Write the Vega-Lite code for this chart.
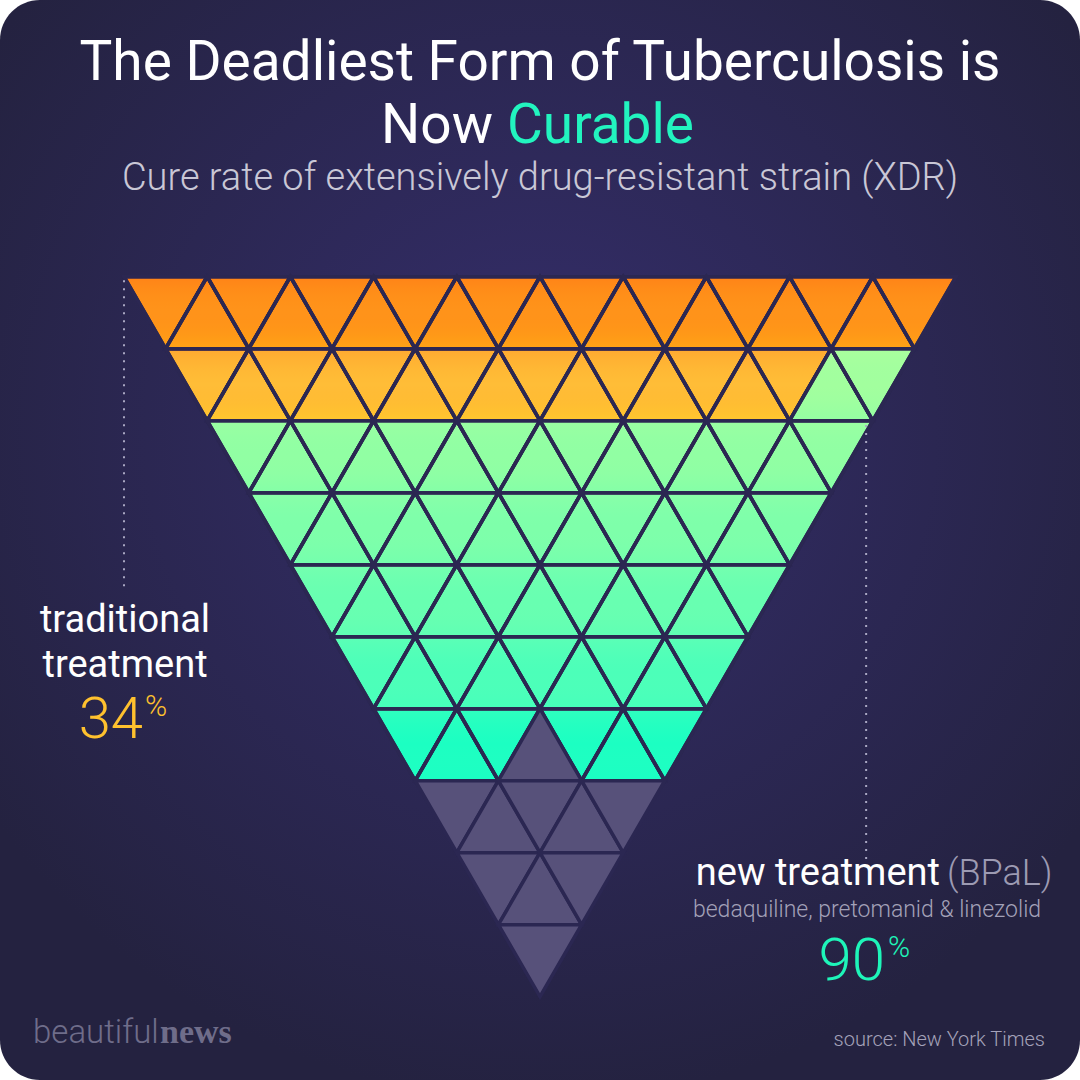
{
  "$schema": "https://vega.github.io/schema/vega-lite/v6.json",
  "width": 1080,
  "height": 1080,
  "padding": 0,
  "autosize": {"type": "fit", "contains": "padding"},
  "background": "#ffffff",
  "config": {
    "view": {
      "stroke": null,
      "cornerRadius": 40,
      "fill": {
        "gradient": "radial",
        "x1": 0.5, "y1": 0.4, "r1": 0,
        "x2": 0.5, "y2": 0.4, "r2": 0.62,
        "stops": [
          {"offset": 0, "color": "#352E6C"},
          {"offset": 1, "color": "#242240"}
        ]
      }
    }
  },
  "datasets": {
    "tri": [
      {"r":1,"c":1,"dir":"down","s":"traditional"},{"r":1,"c":2,"dir":"up","s":"traditional"},{"r":1,"c":3,"dir":"down","s":"traditional"},{"r":1,"c":4,"dir":"up","s":"traditional"},{"r":1,"c":5,"dir":"down","s":"traditional"},{"r":1,"c":6,"dir":"up","s":"traditional"},{"r":1,"c":7,"dir":"down","s":"traditional"},{"r":1,"c":8,"dir":"up","s":"traditional"},{"r":1,"c":9,"dir":"down","s":"traditional"},{"r":1,"c":10,"dir":"up","s":"traditional"},{"r":1,"c":11,"dir":"down","s":"traditional"},{"r":1,"c":12,"dir":"up","s":"traditional"},{"r":1,"c":13,"dir":"down","s":"traditional"},{"r":1,"c":14,"dir":"up","s":"traditional"},{"r":1,"c":15,"dir":"down","s":"traditional"},{"r":1,"c":16,"dir":"up","s":"traditional"},{"r":1,"c":17,"dir":"down","s":"traditional"},{"r":1,"c":18,"dir":"up","s":"traditional"},{"r":1,"c":19,"dir":"down","s":"traditional"},
      {"r":2,"c":2,"dir":"down","s":"traditional"},{"r":2,"c":3,"dir":"up","s":"traditional"},{"r":2,"c":4,"dir":"down","s":"traditional"},{"r":2,"c":5,"dir":"up","s":"traditional"},{"r":2,"c":6,"dir":"down","s":"traditional"},{"r":2,"c":7,"dir":"up","s":"traditional"},{"r":2,"c":8,"dir":"down","s":"traditional"},{"r":2,"c":9,"dir":"up","s":"traditional"},{"r":2,"c":10,"dir":"down","s":"traditional"},{"r":2,"c":11,"dir":"up","s":"traditional"},{"r":2,"c":12,"dir":"down","s":"traditional"},{"r":2,"c":13,"dir":"up","s":"traditional"},{"r":2,"c":14,"dir":"down","s":"traditional"},{"r":2,"c":15,"dir":"up","s":"traditional"},{"r":2,"c":16,"dir":"down","s":"traditional"},{"r":2,"c":17,"dir":"up","s":"new"},{"r":2,"c":18,"dir":"down","s":"new"},
      {"r":3,"c":3,"dir":"down","s":"new"},{"r":3,"c":4,"dir":"up","s":"new"},{"r":3,"c":5,"dir":"down","s":"new"},{"r":3,"c":6,"dir":"up","s":"new"},{"r":3,"c":7,"dir":"down","s":"new"},{"r":3,"c":8,"dir":"up","s":"new"},{"r":3,"c":9,"dir":"down","s":"new"},{"r":3,"c":10,"dir":"up","s":"new"},{"r":3,"c":11,"dir":"down","s":"new"},{"r":3,"c":12,"dir":"up","s":"new"},{"r":3,"c":13,"dir":"down","s":"new"},{"r":3,"c":14,"dir":"up","s":"new"},{"r":3,"c":15,"dir":"down","s":"new"},{"r":3,"c":16,"dir":"up","s":"new"},{"r":3,"c":17,"dir":"down","s":"new"},
      {"r":4,"c":4,"dir":"down","s":"new"},{"r":4,"c":5,"dir":"up","s":"new"},{"r":4,"c":6,"dir":"down","s":"new"},{"r":4,"c":7,"dir":"up","s":"new"},{"r":4,"c":8,"dir":"down","s":"new"},{"r":4,"c":9,"dir":"up","s":"new"},{"r":4,"c":10,"dir":"down","s":"new"},{"r":4,"c":11,"dir":"up","s":"new"},{"r":4,"c":12,"dir":"down","s":"new"},{"r":4,"c":13,"dir":"up","s":"new"},{"r":4,"c":14,"dir":"down","s":"new"},{"r":4,"c":15,"dir":"up","s":"new"},{"r":4,"c":16,"dir":"down","s":"new"},
      {"r":5,"c":5,"dir":"down","s":"new"},{"r":5,"c":6,"dir":"up","s":"new"},{"r":5,"c":7,"dir":"down","s":"new"},{"r":5,"c":8,"dir":"up","s":"new"},{"r":5,"c":9,"dir":"down","s":"new"},{"r":5,"c":10,"dir":"up","s":"new"},{"r":5,"c":11,"dir":"down","s":"new"},{"r":5,"c":12,"dir":"up","s":"new"},{"r":5,"c":13,"dir":"down","s":"new"},{"r":5,"c":14,"dir":"up","s":"new"},{"r":5,"c":15,"dir":"down","s":"new"},
      {"r":6,"c":6,"dir":"down","s":"new"},{"r":6,"c":7,"dir":"up","s":"new"},{"r":6,"c":8,"dir":"down","s":"new"},{"r":6,"c":9,"dir":"up","s":"new"},{"r":6,"c":10,"dir":"down","s":"new"},{"r":6,"c":11,"dir":"up","s":"new"},{"r":6,"c":12,"dir":"down","s":"new"},{"r":6,"c":13,"dir":"up","s":"new"},{"r":6,"c":14,"dir":"down","s":"new"},
      {"r":7,"c":7,"dir":"down","s":"new"},{"r":7,"c":8,"dir":"up","s":"new"},{"r":7,"c":9,"dir":"down","s":"new"},{"r":7,"c":10,"dir":"up","s":"none"},{"r":7,"c":11,"dir":"down","s":"new"},{"r":7,"c":12,"dir":"up","s":"new"},{"r":7,"c":13,"dir":"down","s":"new"},
      {"r":8,"c":8,"dir":"down","s":"none"},{"r":8,"c":9,"dir":"up","s":"none"},{"r":8,"c":10,"dir":"down","s":"none"},{"r":8,"c":11,"dir":"up","s":"none"},{"r":8,"c":12,"dir":"down","s":"none"},
      {"r":9,"c":9,"dir":"down","s":"none"},{"r":9,"c":10,"dir":"up","s":"none"},{"r":9,"c":11,"dir":"down","s":"none"},
      {"r":10,"c":10,"dir":"down","s":"none"}
    ]
  },
  "layer": [
    {
      "data": {"name": "tri"},
      "transform": [{"filter": "datum.s === 'traditional'"}],
      "mark": {"type": "point", "filled": true, "opacity": 1, "size": 6922, "stroke": "#2B2752", "strokeWidth": 3.5},
      "encoding": {
        "x": {"field": "c", "type": "quantitative", "scale": {"domain": [-2.981, 22.981], "nice": false, "zero": false}, "axis": null},
        "y": {"field": "r", "type": "quantitative", "scale": {"domain": [-3.343, 11.657], "nice": false, "zero": false, "reverse": true}, "axis": null},
        "shape": {"field": "dir", "type": "nominal", "scale": {"domain": ["down", "up"], "range": ["triangle-down", "triangle-up"]}, "legend": null},
        "fill": {"field": "r", "type": "quantitative", "scale": {"domain": [1, 2], "range": ["#FF931A", "#FFBD37"]}, "legend": null}
      }
    },
    {
      "data": {"name": "tri"},
      "transform": [{"filter": "datum.s === 'traditional'"}],
      "mark": {"type": "point", "filled": true, "opacity": 1, "size": 6922, "stroke": "#2B2752", "strokeWidth": 3.5,
        "fill": {"gradient": "linear", "x1": 0, "y1": 0, "x2": 0, "y2": 1, "stops": [
          {"offset": 0, "color": "rgba(255,0,0,0.11)"},
          {"offset": 0.5, "color": "rgba(255,128,0,0)"},
          {"offset": 1, "color": "rgba(255,255,0,0.16)"}
        ]}},
      "encoding": {
        "x": {"field": "c", "type": "quantitative", "scale": {"domain": [-2.981, 22.981], "nice": false, "zero": false}, "axis": null},
        "y": {"field": "r", "type": "quantitative", "scale": {"domain": [-3.343, 11.657], "nice": false, "zero": false, "reverse": true}, "axis": null},
        "shape": {"field": "dir", "type": "nominal", "scale": {"domain": ["down", "up"], "range": ["triangle-down", "triangle-up"]}, "legend": null}
      }
    },
    {
      "data": {"name": "tri"},
      "transform": [{"filter": "datum.s === 'new'"}],
      "mark": {"type": "point", "filled": true, "opacity": 1, "size": 6922, "stroke": "#2B2752", "strokeWidth": 3.5},
      "encoding": {
        "x": {"field": "c", "type": "quantitative", "scale": {"domain": [-2.981, 22.981], "nice": false, "zero": false}, "axis": null},
        "y": {"field": "r", "type": "quantitative", "scale": {"domain": [-3.343, 11.657], "nice": false, "zero": false, "reverse": true}, "axis": null},
        "shape": {"field": "dir", "type": "nominal", "scale": {"domain": ["down", "up"], "range": ["triangle-down", "triangle-up"]}, "legend": null},
        "fill": {"field": "r", "type": "quantitative", "scale": {"domain": [2, 7], "range": ["#A2FF9E", "#1CFFC2"]}, "legend": null}
      }
    },
    {
      "data": {"name": "tri"},
      "transform": [{"filter": "datum.s === 'new'"}],
      "mark": {"type": "point", "filled": true, "opacity": 1, "size": 6922, "stroke": "#2B2752", "strokeWidth": 3.5,
        "fill": {"gradient": "linear", "x1": 0, "y1": 0, "x2": 0, "y2": 1, "stops": [
          {"offset": 0, "color": "rgba(255,255,150,0.09)"},
          {"offset": 0.5, "color": "rgba(128,255,180,0)"},
          {"offset": 1, "color": "rgba(0,255,210,0.09)"}
        ]}},
      "encoding": {
        "x": {"field": "c", "type": "quantitative", "scale": {"domain": [-2.981, 22.981], "nice": false, "zero": false}, "axis": null},
        "y": {"field": "r", "type": "quantitative", "scale": {"domain": [-3.343, 11.657], "nice": false, "zero": false, "reverse": true}, "axis": null},
        "shape": {"field": "dir", "type": "nominal", "scale": {"domain": ["down", "up"], "range": ["triangle-down", "triangle-up"]}, "legend": null}
      }
    },
    {
      "data": {"name": "tri"},
      "transform": [{"filter": "datum.s === 'none'"}],
      "mark": {"type": "point", "filled": true, "opacity": 1, "size": 6922, "fill": "#57517A", "stroke": "#2B2752", "strokeWidth": 3.5},
      "encoding": {
        "x": {"field": "c", "type": "quantitative", "scale": {"domain": [-2.981, 22.981], "nice": false, "zero": false}, "axis": null},
        "y": {"field": "r", "type": "quantitative", "scale": {"domain": [-3.343, 11.657], "nice": false, "zero": false, "reverse": true}, "axis": null},
        "shape": {"field": "dir", "type": "nominal", "scale": {"domain": ["down", "up"], "range": ["triangle-down", "triangle-up"]}, "legend": null}
      }
    },
    {
      "data": {"values": [{"x": 0, "y": 0.55, "y2": 4.88}, {"x": 17.84, "y": 2.56, "y2": 8.6}]},
      "mark": {"type": "rule", "stroke": "#A9A7C2", "strokeWidth": 2, "strokeDash": [2, 6]},
      "encoding": {
        "x": {"field": "x", "type": "quantitative", "scale": {"domain": [-2.981, 22.981], "nice": false, "zero": false}, "axis": null},
        "y": {"field": "y", "type": "quantitative", "scale": {"domain": [-3.343, 11.657], "nice": false, "zero": false, "reverse": true}, "axis": null},
        "y2": {"field": "y2"}
      }
    },
    {
      "data": {"values": [{"label": "The Deadliest Form of Tuberculosis is", "x": 10, "y": -2.232}]},
      "mark": {"type": "text", "font": "Roboto", "fontWeight": 400, "fontSize": 55, "color": "#FFFFFF", "align": "center", "baseline": "alphabetic"},
      "encoding": {
        "x": {"field": "x", "type": "quantitative", "scale": {"domain": [-2.981, 22.981], "nice": false, "zero": false}, "axis": null},
        "y": {"field": "y", "type": "quantitative", "scale": {"domain": [-3.343, 11.657], "nice": false, "zero": false, "reverse": true}, "axis": null},
        "text": {"field": "label"}
      }
    },
    {
      "data": {"values": [{"label": "Now", "x": 8.870, "y": -1.357}]},
      "mark": {"type": "text", "font": "Roboto", "fontWeight": 400, "fontSize": 55, "color": "#FFFFFF", "align": "right", "baseline": "alphabetic"},
      "encoding": {
        "x": {"field": "x", "type": "quantitative", "scale": {"domain": [-2.981, 22.981], "nice": false, "zero": false}, "axis": null},
        "y": {"field": "y", "type": "quantitative", "scale": {"domain": [-3.343, 11.657], "nice": false, "zero": false, "reverse": true}, "axis": null},
        "text": {"field": "label"}
      }
    },
    {
      "data": {"values": [{"label": "Curable", "x": 9.207, "y": -1.357}]},
      "mark": {"type": "text", "font": "Roboto", "fontWeight": 400, "fontSize": 55, "color": "#22F4BF", "align": "left", "baseline": "alphabetic"},
      "encoding": {
        "x": {"field": "x", "type": "quantitative", "scale": {"domain": [-2.981, 22.981], "nice": false, "zero": false}, "axis": null},
        "y": {"field": "y", "type": "quantitative", "scale": {"domain": [-3.343, 11.657], "nice": false, "zero": false, "reverse": true}, "axis": null},
        "text": {"field": "label"}
      }
    },
    {
      "data": {"values": [{"label": "Cure rate of extensively drug-resistant strain (XDR)", "x": 10, "y": -0.701}]},
      "mark": {"type": "text", "font": "Roboto", "fontWeight": 300, "fontSize": 38, "color": "#C9C7D6", "align": "center", "baseline": "alphabetic"},
      "encoding": {
        "x": {"field": "x", "type": "quantitative", "scale": {"domain": [-2.981, 22.981], "nice": false, "zero": false}, "axis": null},
        "y": {"field": "y", "type": "quantitative", "scale": {"domain": [-3.343, 11.657], "nice": false, "zero": false, "reverse": true}, "axis": null},
        "text": {"field": "label"}
      }
    },
    {
      "data": {"values": [{"label": "traditional", "x": 0.024, "y": 5.434}, {"label": "treatment", "x": 0.024, "y": 6.06}]},
      "mark": {"type": "text", "font": "Roboto", "fontWeight": 400, "fontSize": 38, "color": "#FFFFFF", "align": "center", "baseline": "alphabetic"},
      "encoding": {
        "x": {"field": "x", "type": "quantitative", "scale": {"domain": [-2.981, 22.981], "nice": false, "zero": false}, "axis": null},
        "y": {"field": "y", "type": "quantitative", "scale": {"domain": [-3.343, 11.657], "nice": false, "zero": false, "reverse": true}, "axis": null},
        "text": {"field": "label"}
      }
    },
    {
      "data": {"values": [{"value": 34, "x": 0.457, "y": 6.907}]},
      "mark": {"type": "text", "font": "Roboto", "fontWeight": 300, "fontSize": 58, "color": "#FFC12E", "align": "right", "baseline": "alphabetic"},
      "encoding": {
        "x": {"field": "x", "type": "quantitative", "scale": {"domain": [-2.981, 22.981], "nice": false, "zero": false}, "axis": null},
        "y": {"field": "y", "type": "quantitative", "scale": {"domain": [-3.343, 11.657], "nice": false, "zero": false, "reverse": true}, "axis": null},
        "text": {"field": "value"}
      }
    },
    {
      "data": {"values": [{"label": "%", "x": 0.505, "y": 6.6}]},
      "mark": {"type": "text", "font": "Roboto", "fontWeight": 300, "fontSize": 30, "color": "#FFC12E", "align": "left", "baseline": "alphabetic"},
      "encoding": {
        "x": {"field": "x", "type": "quantitative", "scale": {"domain": [-2.981, 22.981], "nice": false, "zero": false}, "axis": null},
        "y": {"field": "y", "type": "quantitative", "scale": {"domain": [-3.343, 11.657], "nice": false, "zero": false, "reverse": true}, "axis": null},
        "text": {"field": "label"}
      }
    },
    {
      "data": {"values": [{"label": "new treatment", "x": 19.615, "y": 8.945}]},
      "mark": {"type": "text", "font": "Roboto", "fontWeight": 400, "fontSize": 38, "color": "#FFFFFF", "align": "right", "baseline": "alphabetic"},
      "encoding": {
        "x": {"field": "x", "type": "quantitative", "scale": {"domain": [-2.981, 22.981], "nice": false, "zero": false}, "axis": null},
        "y": {"field": "y", "type": "quantitative", "scale": {"domain": [-3.343, 11.657], "nice": false, "zero": false, "reverse": true}, "axis": null},
        "text": {"field": "label"}
      }
    },
    {
      "data": {"values": [{"label": "(BPaL)", "x": 19.784, "y": 8.945}]},
      "mark": {"type": "text", "font": "Roboto", "fontWeight": 300, "fontSize": 36, "color": "#9D9BB3", "align": "left", "baseline": "alphabetic"},
      "encoding": {
        "x": {"field": "x", "type": "quantitative", "scale": {"domain": [-2.981, 22.981], "nice": false, "zero": false}, "axis": null},
        "y": {"field": "y", "type": "quantitative", "scale": {"domain": [-3.343, 11.657], "nice": false, "zero": false, "reverse": true}, "axis": null},
        "text": {"field": "label"}
      }
    },
    {
      "data": {"values": [{"label": "bedaquiline, pretomanid & linezolid", "x": 17.861, "y": 9.4}]},
      "mark": {"type": "text", "font": "Roboto", "fontWeight": 300, "fontSize": 23, "color": "#A3A1B8", "align": "center", "baseline": "alphabetic"},
      "encoding": {
        "x": {"field": "x", "type": "quantitative", "scale": {"domain": [-2.981, 22.981], "nice": false, "zero": false}, "axis": null},
        "y": {"field": "y", "type": "quantitative", "scale": {"domain": [-3.343, 11.657], "nice": false, "zero": false, "reverse": true}, "axis": null},
        "text": {"field": "label"}
      }
    },
    {
      "data": {"values": [{"value": 90, "x": 18.293, "y": 10.268}]},
      "mark": {"type": "text", "font": "Roboto", "fontWeight": 300, "fontSize": 60, "color": "#1EF5B9", "align": "right", "baseline": "alphabetic"},
      "encoding": {
        "x": {"field": "x", "type": "quantitative", "scale": {"domain": [-2.981, 22.981], "nice": false, "zero": false}, "axis": null},
        "y": {"field": "y", "type": "quantitative", "scale": {"domain": [-3.343, 11.657], "nice": false, "zero": false, "reverse": true}, "axis": null},
        "text": {"field": "value"}
      }
    },
    {
      "data": {"values": [{"label": "%", "x": 18.365, "y": 9.95}]},
      "mark": {"type": "text", "font": "Roboto", "fontWeight": 300, "fontSize": 30, "color": "#1EF5B9", "align": "left", "baseline": "alphabetic"},
      "encoding": {
        "x": {"field": "x", "type": "quantitative", "scale": {"domain": [-2.981, 22.981], "nice": false, "zero": false}, "axis": null},
        "y": {"field": "y", "type": "quantitative", "scale": {"domain": [-3.343, 11.657], "nice": false, "zero": false, "reverse": true}, "axis": null},
        "text": {"field": "label"}
      }
    },
    {
      "data": {"values": [{"label": "beautiful", "x": -2.1875, "y": 11.143}]},
      "mark": {"type": "text", "font": "Roboto", "fontWeight": 300, "fontSize": 33, "color": "#6F6D8A", "align": "left", "baseline": "alphabetic"},
      "encoding": {
        "x": {"field": "x", "type": "quantitative", "scale": {"domain": [-2.981, 22.981], "nice": false, "zero": false}, "axis": null},
        "y": {"field": "y", "type": "quantitative", "scale": {"domain": [-3.343, 11.657], "nice": false, "zero": false, "reverse": true}, "axis": null},
        "text": {"field": "label"}
      }
    },
    {
      "data": {"values": [{"label": "news", "x": 0.865, "y": 11.143}]},
      "mark": {"type": "text", "font": "Liberation Serif", "fontWeight": "bold", "fontSize": 34, "color": "#6F6D8A", "align": "left", "baseline": "alphabetic"},
      "encoding": {
        "x": {"field": "x", "type": "quantitative", "scale": {"domain": [-2.981, 22.981], "nice": false, "zero": false}, "axis": null},
        "y": {"field": "y", "type": "quantitative", "scale": {"domain": [-3.343, 11.657], "nice": false, "zero": false, "reverse": true}, "axis": null},
        "text": {"field": "label"}
      }
    },
    {
      "data": {"values": [{"label": "source: New York Times", "x": 22.139, "y": 11.185}]},
      "mark": {"type": "text", "font": "Roboto", "fontWeight": 300, "fontSize": 20, "color": "#A4A2BA", "align": "right", "baseline": "alphabetic"},
      "encoding": {
        "x": {"field": "x", "type": "quantitative", "scale": {"domain": [-2.981, 22.981], "nice": false, "zero": false}, "axis": null},
        "y": {"field": "y", "type": "quantitative", "scale": {"domain": [-3.343, 11.657], "nice": false, "zero": false, "reverse": true}, "axis": null},
        "text": {"field": "label"}
      }
    }
  ],
  "resolve": {"scale": {"fill": "independent"}}
}
